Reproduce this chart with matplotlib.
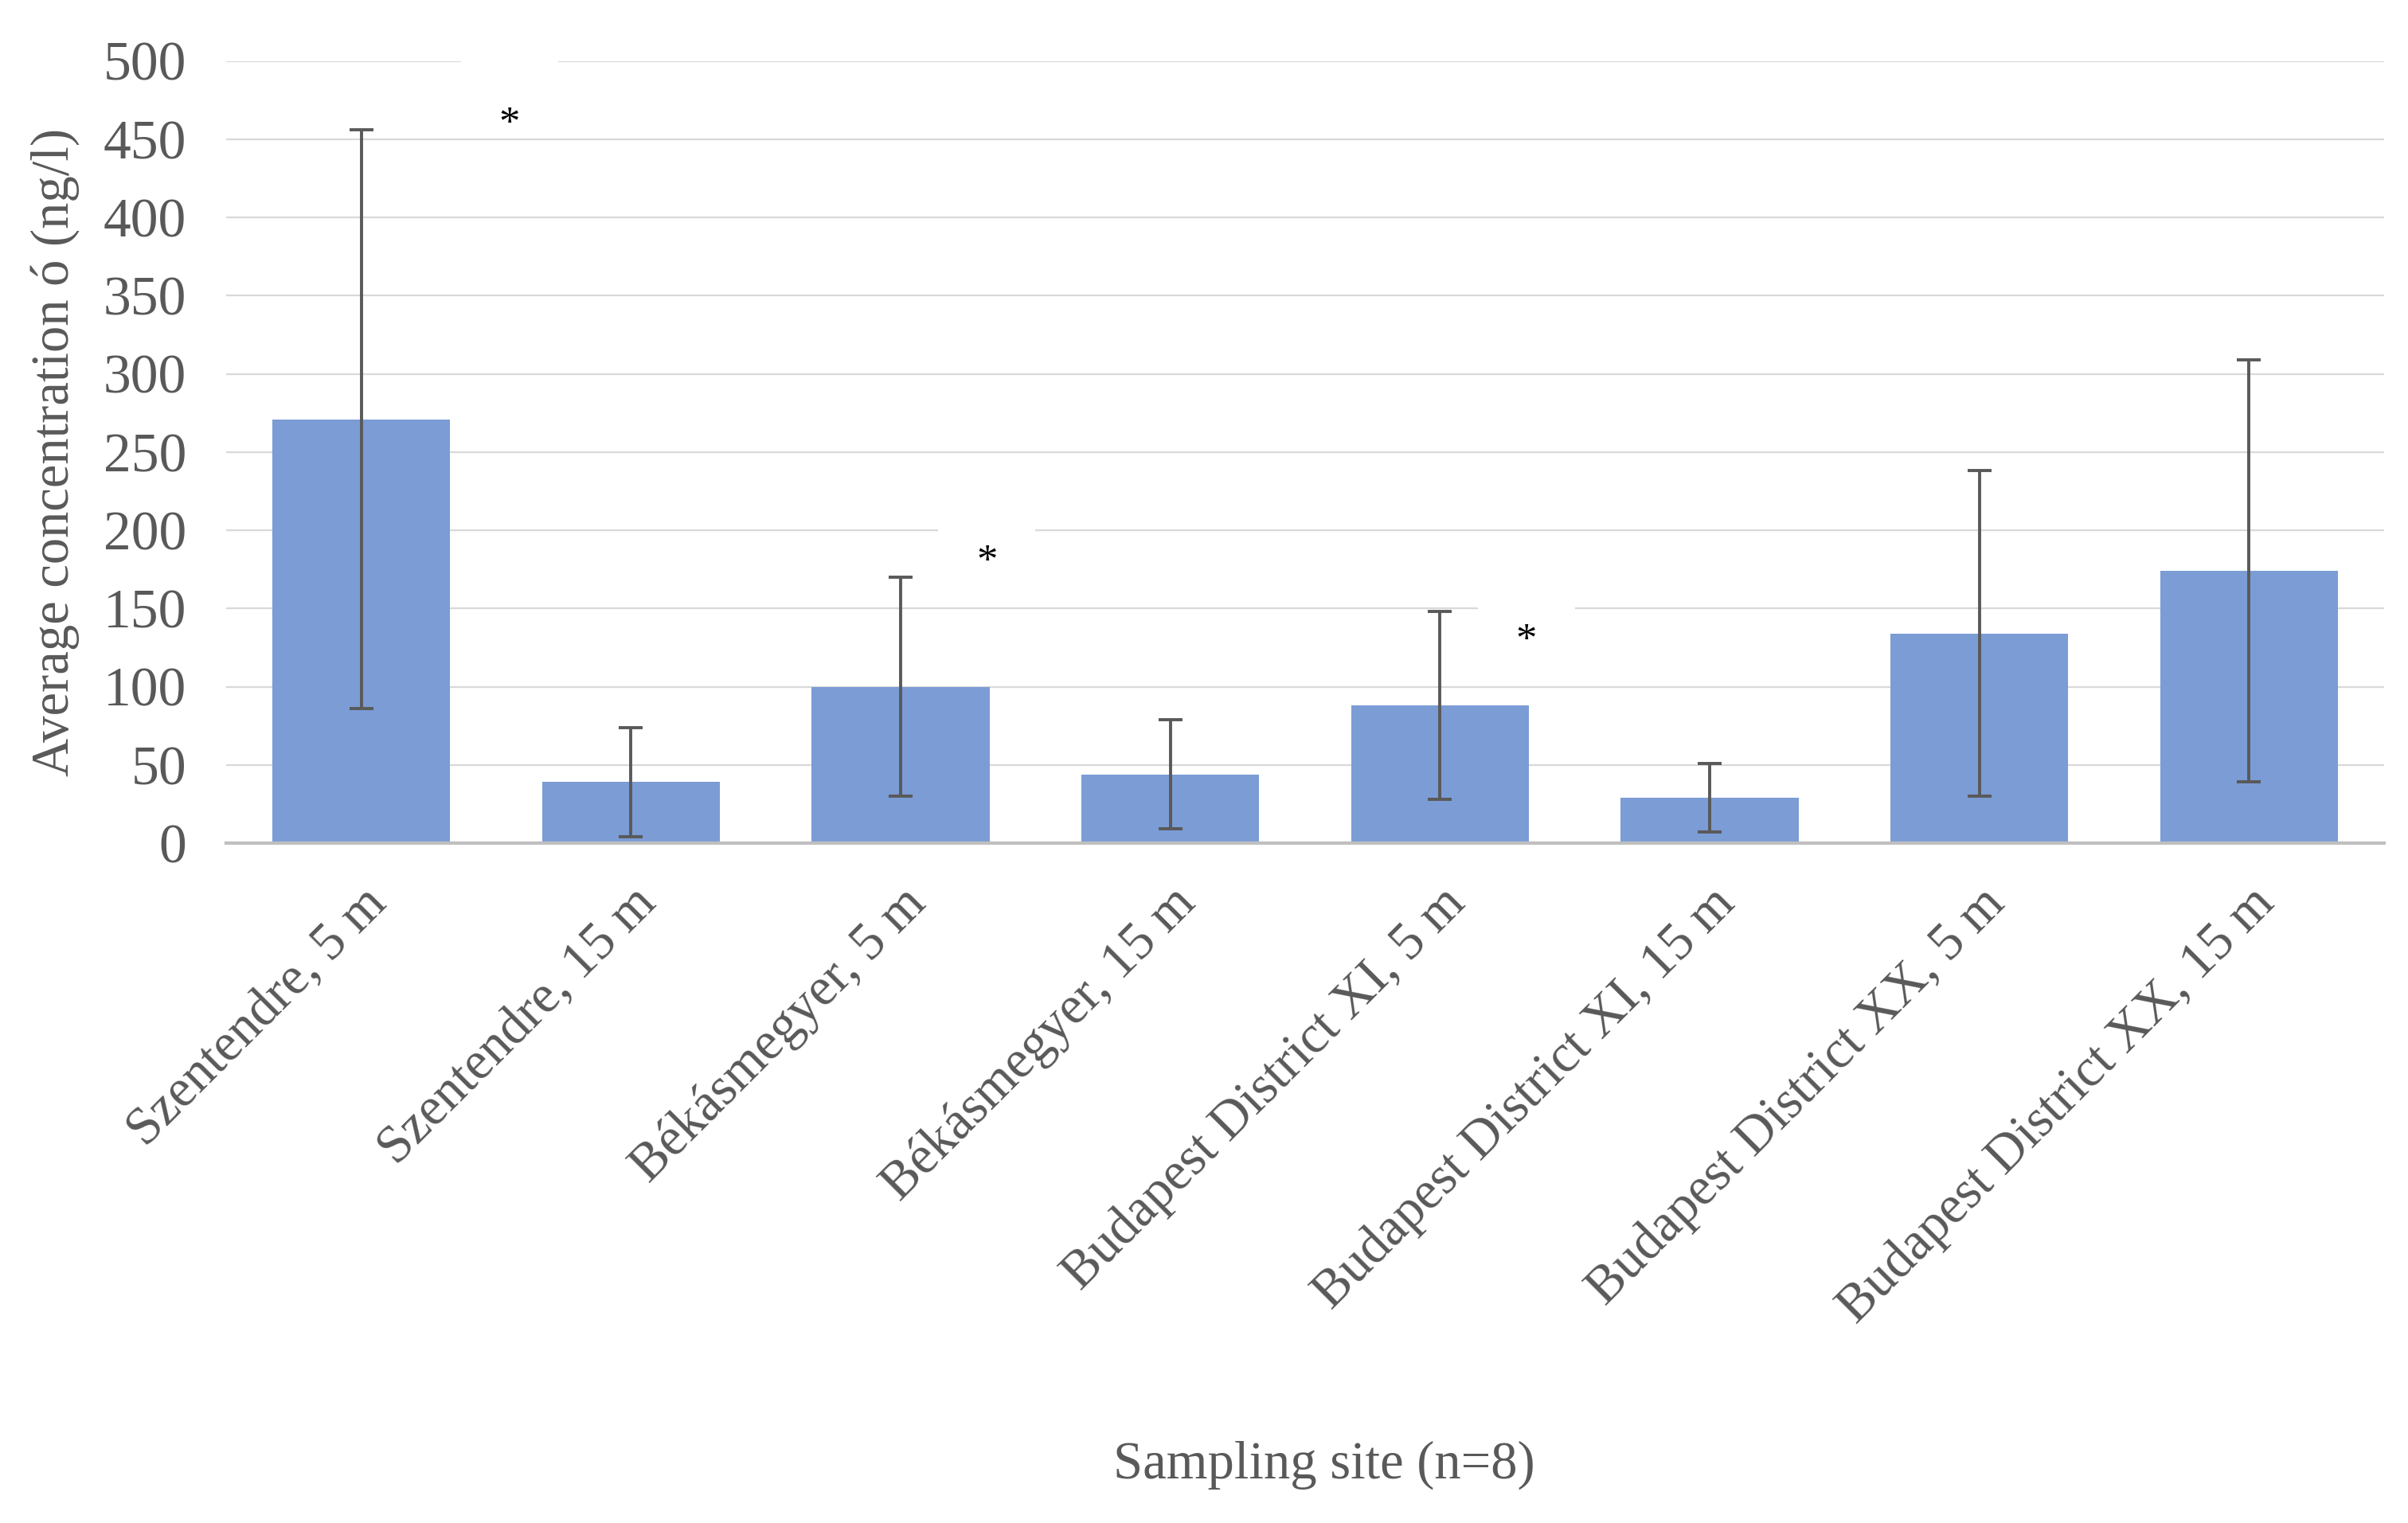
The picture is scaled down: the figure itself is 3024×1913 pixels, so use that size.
import numpy as np
import matplotlib.pyplot as plt
from matplotlib.patches import Rectangle

# sampling sites and mean concentrations (ng/l) with their SD
sites = ["Szentendre, 5 m", "Szentendre, 15 m", "Békásmegyer, 5 m",
         "Békásmegyer, 15 m", "Budapest District XI, 5 m",
         "Budapest District XI, 15 m", "Budapest District XX, 5 m",
         "Budapest District XX, 15 m"]
means = [271, 39, 100, 44, 88, 29, 134, 174]
sd = [185, 35, 70, 35, 60, 22, 104, 135]

# significance marks
star_x = [0.55, 2.32, 4.32]
star_y = [466, 186, 136]

plt.rcParams['font.family'] = ['Liberation Serif', 'DejaVu Serif']
text_col = '#595959'

fig = plt.figure(figsize=(15.12, 9.565), dpi=200)
ax = fig.add_axes([0.094, 0.4464, 0.896, 0.5136])

x = np.arange(len(sites))
ax.bar(x, means, width=0.66, color='#7B9CD5', zorder=2)
ax.errorbar(x, means, yerr=sd, fmt='none', ecolor='#595959',
            elinewidth=1.4, capsize=5.5, capthick=1.4, zorder=3)

# stars sit in small white text boxes that cut the gridline above them
for sx, sy in zip(star_x, star_y):
    ax.add_patch(Rectangle((sx - 0.18, sy - 10), 0.36, 52, facecolor='white',
                           edgecolor='none', zorder=1.5, clip_on=False))
    ax.annotate("*", (sx, sy), xytext=(0, -5), textcoords='offset points',
                ha='center', va='center', fontsize=19, color='black',
                zorder=4)

ax.set_xlim(-0.5, 7.5)
ax.set_ylim(0, 500)
ax.set_yticks(np.arange(0, 501, 50))
ax.yaxis.grid(True, color='#d9d9d9', linewidth=0.8, zorder=0)
ax.set_axisbelow(True)
for s in ['left', 'right', 'top']:
    ax.spines[s].set_visible(False)
ax.spines['bottom'].set_color('#bfbfbf')
ax.spines['bottom'].set_linewidth(1.5)
ax.spines['bottom'].set_zorder(5)

ax.set_xticks(x)
ax.set_xticklabels(sites, rotation=45, ha='right', rotation_mode='anchor',
                   fontsize=24, color=text_col)
ax.tick_params(axis='x', length=0, pad=16)
ax.tick_params(axis='y', length=0, pad=18, labelsize=25, labelcolor=text_col)

ax.set_ylabel("Average concentration ó (ng/l)", fontsize=24, color=text_col)
ax.yaxis.set_label_coords(-0.068, 0.5)
fig.text(0.55, 0.038, "Sampling site (n=8)", ha='center', va='center',
         fontsize=24, color=text_col)

fig.savefig("out.png", dpi=200, facecolor='white')
